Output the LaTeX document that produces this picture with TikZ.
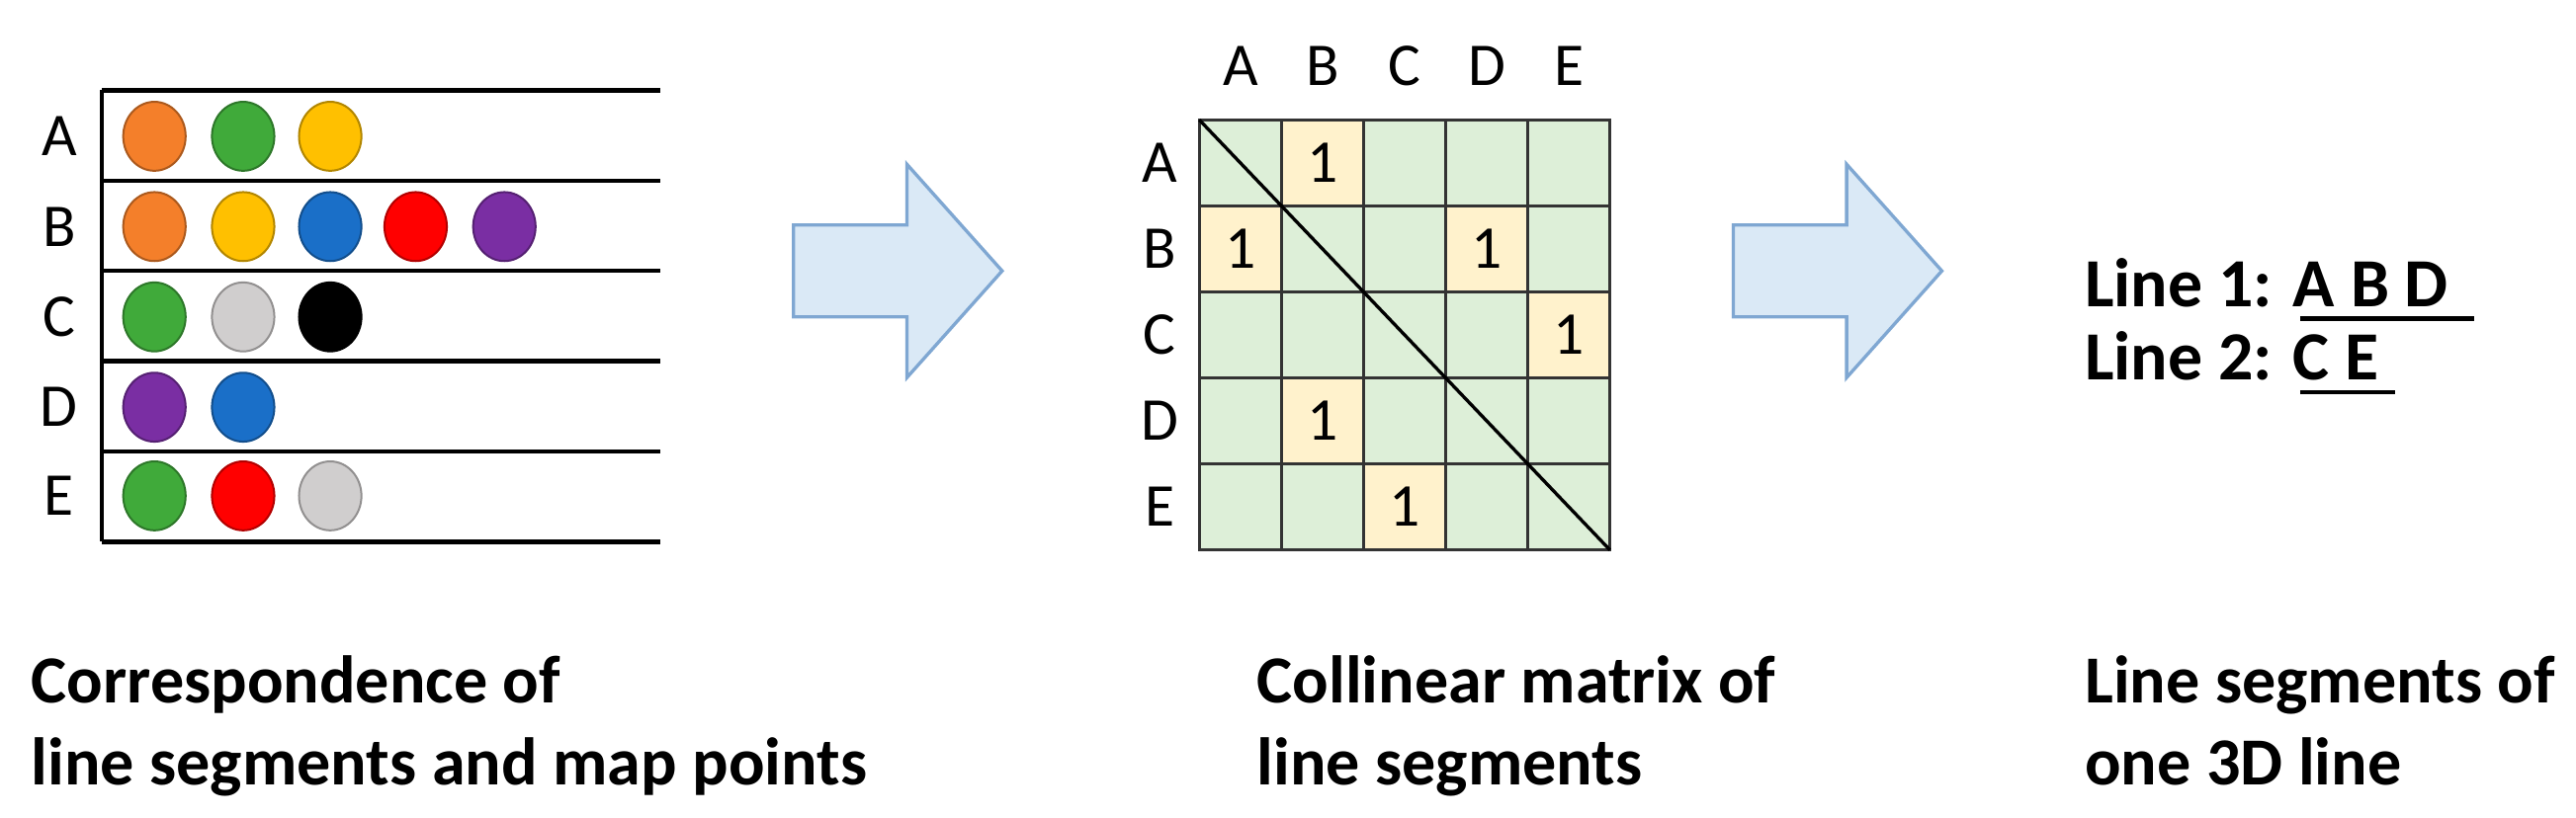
\documentclass[tikz,border=0pt]{standalone}
\usepackage{fontspec}
\setmainfont{Carlito}
\begin{document}
\begin{tikzpicture}[x=0.5pt,y=-0.5pt,
  lbl/.style={font=\fontsize{18.5}{22}\selectfont},
  captxt/.style={font=\fontsize{20.5}{25}\selectfont\bfseries,align=left,anchor=north west},
  res/.style={font=\fontsize{21}{24}\selectfont\bfseries,anchor=west},
  dot/.style={draw=#1!70!black,fill=#1,line width=0.6pt},
  cell/.style={draw=black!80,line width=1pt,fill=mgreen},
  one/.style={draw=black!80,line width=1pt,fill=myellow},
  bigarrow/.style={draw=arrb,fill=arrf,line width=1pt}]
\definecolor{corange}{HTML}{F47F2A}
\definecolor{cgreen}{HTML}{40AA3A}
\definecolor{cyellow}{HTML}{FFC000}
\definecolor{cblue}{HTML}{1A6FC8}
\definecolor{cred}{HTML}{FF0000}
\definecolor{cpurple}{HTML}{7A2EA3}
\definecolor{cgrey}{HTML}{D0CECE}
\definecolor{cblack}{HTML}{000000}
\definecolor{mgreen}{HTML}{DDEFD8}
\definecolor{myellow}{HTML}{FFF2CC}
\definecolor{arrf}{HTML}{DAE9F6}
\definecolor{arrb}{HTML}{7FA7D2}
\useasboundingbox (0,0) rectangle (1568,498);
% left table
\draw[line width=1.3pt] (62,55) -- (62,330);
\foreach \y in {55,110,165,220,275,330} \draw[line width=1.3pt] (62,\y) -- (402,\y);
\foreach \n/\y in {A/83,B/138,C/193,D/248,E/302} \node[lbl] (r\n) at (36,\y) {\n};
\foreach \c/\x/\y in {corange/94/83,cgreen/148/83,cyellow/201/83,
  corange/94/138,cyellow/148/138,cblue/201/138,cred/253/138,cpurple/307/138,
  cgreen/94/193,cgrey/148/193,cblack/201/193,
  cpurple/94/248,cblue/148/248,
  cgreen/94/302,cred/148/302,cgrey/201/302}
  \fill[dot=\c] (\x,\y) ellipse (19 and 21);
% arrows
\foreach \s in {483,1055}
  \draw[bigarrow] (\s,137) -- (\s+69,137) -- (\s+69,100) -- (\s+127,165) -- (\s+69,230) -- (\s+69,193) -- (\s,193) -- cycle;
% matrix
\foreach \i in {0,...,4} \foreach \j in {0,...,4}
  \draw[cell] (730+50*\i,73+52.4*\j) rectangle ++(50,52.4);
\foreach \i/\j in {1/0,0/1,3/1,4/2,1/3,2/4}
  {\draw[one] (730+50*\i,73+52.4*\j) rectangle ++(50,52.4);
   \node[lbl] (m\i\j) at (755+50*\i,99+52.4*\j) {1};}
\draw[line width=1pt] (730,73) -- (980,335);
\foreach \n [count=\k from 0] in {A,B,C,D,E} {
  \node[lbl] (c\n) at (755+50*\k,40) {\n};
  \node[lbl] (w\n) at (706,99+52.4*\k) {\n};}
% result
\node[res] (l1) at (1262,172) {Line 1: A B D};
\node[res] (l2) at (1262,217) {Line 2: C E};
\draw[line width=1.3pt] (1400,194) -- (1506,194);
\draw[line width=1.3pt] (1400,239) -- (1458,239);
% captions
\node[captxt] (k1) at (12,392) {Correspondence of\\line segments and map points};
\node[captxt] (k2) at (758,392) {Collinear matrix of\\line segments};
\node[captxt] (k3) at (1262,392) {Line segments of\\one 3D line};
\end{tikzpicture}
\end{document}
